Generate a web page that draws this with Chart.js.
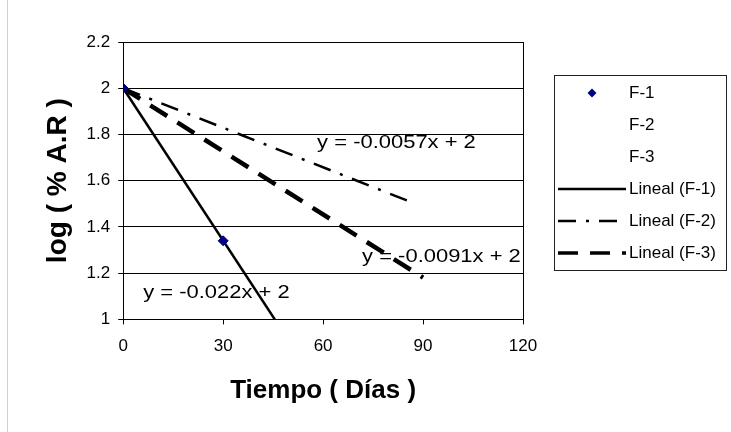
<!DOCTYPE html>
<html>
<head>
<meta charset="utf-8">
<script src="https://cdn.jsdelivr.net/npm/chart.js@4.4.1/dist/chart.umd.min.js"></script>
<style>
  html, body { margin: 0; padding: 0; background: #fff; }
  #wrap { position: relative; width: 731px; height: 432px; }
  #edge { position: absolute; left: 7px; top: 0; width: 1px; height: 432px; background: #d0d0d0; }
</style>
</head>
<body>
<div id="wrap">
  <div id="edge"></div>
  <canvas id="chart" width="731" height="432"></canvas>
</div>
<script>
// measured points (day, log %A.R)
const f1Days = [0, 30];
const f1Values = [2, 1.34];
const f2Days = [0];
const f2Values = [2];
const f3Days = [0];
const f3Values = [2];

// trend line end points
const trend1Days = [0, 45.5];
const trend1Values = [2, 1.0];
const trend2Days = [0, 87];
const trend2Values = [2, 1.504];
const trend3Days = [0, 90];
const trend3Values = [2, 1.181];

// equation labels and where they sit (data coords: left edge, middle)
const eqTexts = ["y = -0.022x + 2", "y = -0.0057x + 2", "y = -0.0091x + 2"];
const eqDays = [6, 58.2, 71.7];
const eqValues = [1.113, 1.761, 1.268];

const seriesNames = ["F-1", "F-2", "F-3", "Lineal (F-1)", "Lineal (F-2)", "Lineal (F-3)"];
const yTickLabels = ["1", "1.2", "1.4", "1.6", "1.8", "2", "2.2"];

const FONT = "'Liberation Sans', Arial, sans-serif";

function toXY(xs, ys) {
  return xs.map((x, i) => ({ x: x, y: ys[i] }));
}

const equationLabels = {
  id: "equationLabels",
  afterDatasetsDraw(chart) {
    const ctx = chart.ctx;
    const xs = chart.scales.x;
    const ys = chart.scales.y;
    ctx.save();
    ctx.font = "18px " + FONT;
    ctx.fillStyle = "#000";
    ctx.textBaseline = "middle";
    ctx.textAlign = "left";
    eqTexts.forEach((t, i) => {
      const px = xs.getPixelForValue(eqDays[i]);
      const py = ys.getPixelForValue(eqValues[i]);
      ctx.save();
      ctx.translate(px, py);
      ctx.scale(1.22, 1);
      ctx.fillText(t, 0, 0);
      ctx.restore();
    });
    ctx.restore();
  },
};

// plot frame + boxed legend on the right (space reserved by layout padding)
const boxedLegend = {
  id: "boxedLegend",
  afterDraw(chart) {
    const ctx = chart.ctx;
    const a = chart.chartArea;
    ctx.save();
    ctx.strokeStyle = "#000";
    ctx.lineWidth = 1;
    ctx.strokeRect(Math.round(a.left) + 0.5, Math.round(a.top) + 0.5,
      Math.round(a.right - a.left), Math.round(a.bottom - a.top));

    const box = { left: 554, top: 75, right: 726, bottom: 270 };
    const rowTop = 93;
    const rowGap = 32;
    const lineX0 = 558;
    const lineX1 = 626;
    const textX = 629;

    ctx.strokeStyle = "#222";
    ctx.strokeRect(box.left + 0.5, box.top + 0.5, box.right - box.left, box.bottom - box.top);

    chart.data.datasets.forEach((ds, i) => {
      const y = rowTop + i * rowGap;
      if (ds.showLine) {
        ctx.save();
        ctx.strokeStyle = ds.borderColor;
        ctx.lineWidth = Math.min(ds.borderWidth, 3.5);
        ctx.setLineDash(ds.borderDash || []);
        ctx.beginPath();
        ctx.moveTo(lineX0, y);
        ctx.lineTo(lineX1, y);
        ctx.stroke();
        ctx.restore();
      } else if (ds.pointRadius > 0) {
        const cx = (lineX0 + lineX1) / 2;
        const r = 4.5;
        ctx.fillStyle = ds.backgroundColor;
        ctx.beginPath();
        ctx.moveTo(cx, y - r);
        ctx.lineTo(cx + r, y);
        ctx.lineTo(cx, y + r);
        ctx.lineTo(cx - r, y);
        ctx.closePath();
        ctx.fill();
      }
      ctx.fillStyle = "#000";
      ctx.font = "17px " + FONT;
      ctx.textBaseline = "middle";
      ctx.textAlign = "left";
      ctx.fillText(ds.label, textX, y);
    });
    ctx.restore();
  },
};

new Chart(document.getElementById("chart"), {
  type: "scatter",
  data: {
    datasets: [
      {
        label: seriesNames[0],
        data: toXY(f1Days, f1Values),
        pointStyle: "rectRot",
        pointRadius: 5,
        backgroundColor: "#000080",
        borderColor: "#000080",
        order: 0,
      },
      {
        label: seriesNames[1],
        data: toXY(f2Days, f2Values),
        pointRadius: 0,
        backgroundColor: "transparent",
        borderColor: "transparent",
      },
      {
        label: seriesNames[2],
        data: toXY(f3Days, f3Values),
        pointRadius: 0,
        backgroundColor: "transparent",
        borderColor: "transparent",
      },
      {
        label: seriesNames[3],
        data: toXY(trend1Days, trend1Values),
        showLine: true,
        pointRadius: 0,
        borderColor: "#000",
        borderWidth: 2.5,
        order: 1,
      },
      {
        label: seriesNames[4],
        data: toXY(trend2Days, trend2Values),
        showLine: true,
        pointRadius: 0,
        borderColor: "#000",
        borderWidth: 2.5,
        borderDash: [18, 10, 3, 10],
        order: 1,
      },
      {
        label: seriesNames[5],
        data: toXY(trend3Days, trend3Values),
        showLine: true,
        pointRadius: 0,
        borderColor: "#000",
        borderWidth: 4.5,
        borderDash: [20, 12],
        order: 1,
      },
    ],
  },
  options: {
    responsive: false,
    animation: false,
    layout: {
      padding: { left: 41, top: 42, right: 208, bottom: 26 },
    },
    scales: {
      x: {
        type: "linear",
        min: 0,
        max: 120,
        border: { display: true, color: "#000" },
        grid: { drawOnChartArea: false, color: "#000", tickLength: 5 },
        ticks: {
          stepSize: 30,
          padding: 12,
          color: "#000",
          font: { family: FONT, size: 17 },
        },
        title: {
          display: true,
          text: "Tiempo ( Días )",
          color: "#000",
          font: { family: FONT, size: 26, weight: "bold" },
          padding: { top: 6, bottom: 0 },
        },
      },
      y: {
        min: 1,
        max: 2.2,
        border: { display: true, color: "#000" },
        grid: { color: "#000", tickLength: 5 },
        ticks: {
          stepSize: 0.2,
          padding: 8,
          color: "#000",
          font: { family: FONT, size: 17 },
          callback: (v, i) => yTickLabels[i],
        },
        title: {
          display: true,
          text: "log ( % A.R )",
          color: "#000",
          font: { family: FONT, size: 28, weight: "bold" },
          padding: { top: 0, bottom: 4 },
        },
      },
    },
    plugins: {
      tooltip: { enabled: false },
      legend: { display: false },
    },
  },
  plugins: [equationLabels, boxedLegend],
});
</script>
</body>
</html>
